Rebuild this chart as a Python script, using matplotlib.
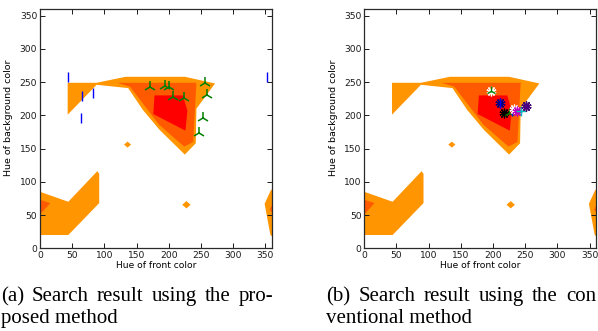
import matplotlib
matplotlib.use('Agg')
import matplotlib.pyplot as plt
from matplotlib.patches import Polygon

# ---------------- data ----------------
hue_ticks = [0, 50, 100, 150, 200, 250, 300, 350]
hue_lim = (0, 360)

# contour regions: (hue of front color, hue of background color) vertices
orange_main = [(43, 249), (88, 249), (133, 258), (225, 258), (272, 248), (243, 210),
               (242, 158), (225, 141), (186, 178), (160, 208), (137, 241), (88, 246), (43, 201)]
orange_lowleft = [(0, 85), (44, 70), (89, 116), (92, 112), (92, 68), (44, 20), (0, 20)]
orange_right = [(349, 67), (358, 86), (366, 96), (366, 14), (358, 20)]
orange_dot1 = [(130.5, 156), (136, 160.5), (141.5, 156), (136, 151.5)]
orange_dot2 = [(221, 65.5), (227.5, 71), (234, 65.5), (227.5, 60)]
mid_main = [(120, 249), (243, 249), (238, 160), (224, 153), (185, 186), (140, 243)]
mid_left = [(0, 73), (16, 68), (0, 51)]
mid_right = [(357, 58), (366, 76), (366, 48)]
red_main = [(178, 230), (222, 230), (229, 207), (226, 177), (176, 202)]

level_polys = [
    ('#FF9500', [orange_main, orange_lowleft, orange_right, orange_dot1, orange_dot2]),
    ('#FF5A00', [mid_main, mid_left, mid_right]),
    ('#FF0000', [red_main]),
]

# proposed method results
prop_blue_x = [43, 66, 82, 64, 353]
prop_blue_y = [257, 229, 234, 196, 258]
prop_green_x = [171, 194, 201, 206, 223, 256, 259, 253, 247]
prop_green_y = [243, 244, 243, 227, 226, 248, 231, 196, 174]

# conventional method results: (x, y, marker, color)
conv_x = [197, 211, 217, 225, 229, 232, 237, 243, 251, 251, 197, 211]
conv_y = [236, 218, 203, 204, 206, 210, 207, 206, 214, 214, 236, 218]
conv_marker = ['*', '*', '*', '2', '|', '*', '*', '+', '*', '*', '2', '|']
conv_color = ['white', 'navy', 'black', 'green', 'blue', 'white', 'm', 'c', 'black', 'indigo', 'green', 'blue']

captions = [
    (["(a)", "Search", "result", "using", "the", "pro-"], "posed method"),
    (["(b)", "Search", "result", "using", "the", "con"], "ventional method"),
]

# ---------------- figure ----------------
W, H = 598, 331
fig = plt.figure(figsize=(W / 100, H / 100), dpi=100)

axes_left_px = [40, 364.3]
ax_w_px, ax_bottom_px, ax_top_px = 231.7, 248.3, 9.0


def style_axis(ax):
    ax.set_xlim(*hue_lim)
    ax.set_ylim(*hue_lim)
    ax.set_xticks(hue_ticks)
    ax.set_yticks(hue_ticks)
    ax.tick_params(direction='in', length=3.5, width=0.7, top=True, right=True,
                   labelsize=6.6, pad=2, colors='#1a1a1a')
    for s in ax.spines.values():
        s.set_linewidth(0.9)
        s.set_color('#2a2a2a')
    ax.set_xlabel('Hue of front color', fontsize=6.6, labelpad=0.5)
    ax.set_ylabel('Hue of background color', fontsize=6.8, labelpad=2)
    ax.yaxis.set_label_coords(-0.115, 0.545)


def draw_contours(ax):
    for color, polys in level_polys:
        for p in polys:
            ax.add_patch(Polygon(p, closed=True, facecolor=color, edgecolor='none'))


axs = []
for lp in axes_left_px:
    ax = fig.add_axes([lp / W, 1 - ax_bottom_px / H, ax_w_px / W, (ax_bottom_px - ax_top_px) / H])
    draw_contours(ax)
    style_axis(ax)
    axs.append(ax)

axs[0].plot(prop_blue_x, prop_blue_y, linestyle='none', marker='|', color='blue',
            markersize=7, markeredgewidth=1.0)
axs[0].plot(prop_green_x, prop_green_y, linestyle='none', marker='2', color='green',
            markersize=9, markeredgewidth=1.1)

for x, y, m, c in zip(conv_x, conv_y, conv_marker, conv_color):
    if m == '*':
        axs[1].plot(x, y, linestyle='none', marker=(10, 2, 0), color=c, markersize=7,
                    markeredgewidth=0.9)
    else:
        axs[1].plot(x, y, linestyle='none', marker=m, color=c, markersize=7,
                    markeredgewidth=1.0)

# ---------------- captions (justified first line) ----------------
cap_font = dict(family='Liberation Serif', fontsize=15)
cap_x = [1, 326]
col_w = [272, 270]
base1, base2 = 301, 323
fig.canvas.draw()
renderer = fig.canvas.get_renderer()
for (words, line2), x0, cw in zip(captions, cap_x, col_w):
    texts = [fig.text(0, 1 - base1 / H, w, va='baseline', ha='left', **cap_font) for w in words]
    widths = [t.get_window_extent(renderer).width for t in texts]
    gap = (cw - sum(widths)) / (len(words) - 1)
    xx = x0
    for t, w in zip(texts, widths):
        t.set_x(xx / W)
        xx += w + gap
    fig.text(x0 / W, 1 - base2 / H, line2, va='baseline', ha='left', **cap_font)

fig.savefig('out.png', dpi=100)
